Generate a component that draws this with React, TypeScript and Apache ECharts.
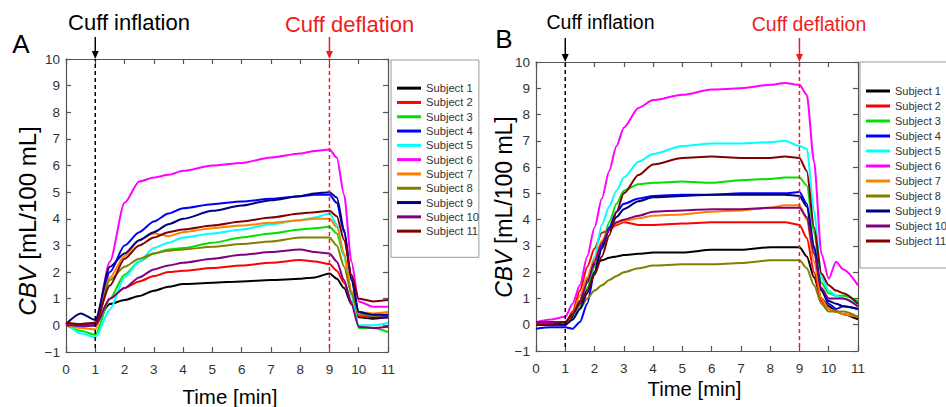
import React, { useEffect, useRef } from 'react';
import * as echarts from 'echarts';

const subjects = ['Subject 1', 'Subject 2', 'Subject 3', 'Subject 4', 'Subject 5', 'Subject 6', 'Subject 7', 'Subject 8', 'Subject 9', 'Subject 10', 'Subject 11'];
const colors = ['#000000', '#ff0000', '#00e000', '#0000ff', '#00ffff', '#ff00ff', '#ff8000', '#808000', '#000080', '#800080', '#800000'];

const xTicks = { min: 0, max: 11, interval: 1 };
const yTicks = { min: -1, max: 10, interval: 1 };
const cuffInflation = 1;
const cuffDeflation = 9;
const dashBottom = -0.85;

// Panel A
const timeA = [0, 0.5, 1, 1.5, 2, 2.5, 3, 3.5, 4, 5, 6, 7, 8, 8.5, 9, 9.25, 9.5, 9.75, 10, 10.5, 11];
const a1 = [0, 0.0, 0.1, 0.8, 0.95, 1.1, 1.3, 1.45, 1.55, 1.6, 1.65, 1.7, 1.75, 1.8, 1.95, 1.75, 1.4, 0.8, 0.3, 0.25, 0.3];
const a2 = [0, -0.05, 0, 1.0, 1.4, 1.65, 1.85, 2.0, 2.05, 2.15, 2.25, 2.35, 2.45, 2.4, 2.3, 2.05, 1.6, 0.9, 0.35, 0.3, 0.3];
const a3 = [0, -0.2, -0.35, 1.0, 1.9, 2.4, 2.7, 2.85, 2.9, 3.1, 3.3, 3.45, 3.6, 3.65, 3.7, 3.45, 2.6, 1.2, -0.1, -0.1, -0.25];
const a4 = [0, -0.05, 0, 2.0, 3.0, 3.5, 3.9, 4.2, 4.4, 4.55, 4.65, 4.75, 4.85, 4.9, 4.9, 4.6, 3.5, 1.8, 0.5, 0.3, 0.3];
const a5 = [0.1, -0.3, -0.45, 0.6, 1.8, 2.4, 2.9, 3.1, 3.3, 3.45, 3.6, 3.8, 3.95, 4.05, 4.2, 3.8, 2.6, 1.1, 0.0, 0.0, 0.1];
const a6 = [0, 0, 0, 2.4, 4.6, 5.4, 5.55, 5.65, 5.8, 6.0, 6.1, 6.3, 6.45, 6.55, 6.6, 6.3, 4.9, 2.4, 0.9, 0.7, 0.7];
const a7 = [0, -0.1, -0.15, 1.8, 2.6, 3.2, 3.45, 3.35, 3.5, 3.65, 3.75, 3.85, 3.95, 4.0, 4.0, 3.7, 2.7, 1.3, 0.5, 0.45, 0.5];
const a8 = [0, 0, 0, 1.7, 2.2, 2.5, 2.7, 2.8, 2.85, 2.95, 3.05, 3.15, 3.3, 3.3, 3.3, 3.0, 2.2, 1.2, 0.4, 0.35, 0.4];
const a9 = [0.05, 0.45, 0.2, 2.2, 2.7, 3.2, 3.5, 3.8, 4.0, 4.3, 4.5, 4.7, 4.85, 4.95, 5.0, 4.8, 3.6, 1.7, 0.5, 0.4, 0.4];
const a10 = [0, 0, 0, 1.0, 1.4, 1.8, 2.1, 2.25, 2.35, 2.5, 2.65, 2.75, 2.85, 2.75, 2.7, 2.4, 1.7, 0.8, -0.05, -0.1, -0.05];
const a11 = [0.1, 0.05, 0.1, 1.5, 2.5, 3.0, 3.3, 3.5, 3.6, 3.75, 3.9, 4.05, 4.2, 4.25, 4.3, 4.1, 3.2, 1.9, 1.0, 0.9, 0.95];
const panelA = [a1, a2, a3, a4, a5, a6, a7, a8, a9, a10, a11];

// Panel B
const timeB = [0, 0.5, 1, 1.25, 1.5, 1.75, 2, 2.25, 2.5, 2.75, 3, 3.5, 4, 5, 6, 7, 8, 8.5, 9, 9.25, 9.5, 9.75, 10, 10.25, 10.5, 11];
const b1 = [0.05, 0.05, 0, 0.3, 0.9, 1.7, 2.3, 2.45, 2.55, 2.6, 2.65, 2.7, 2.75, 2.75, 2.85, 2.85, 2.95, 2.95, 2.95, 2.6, 1.8, 1.0, 0.7, 0.5, 0.4, 0.2];
const b2 = [0, 0, 0, 0.5, 1.3, 2.2, 2.9, 3.5, 3.6, 3.8, 3.9, 3.8, 3.8, 3.85, 3.9, 3.9, 3.9, 3.9, 3.8, 3.3, 2.0, 0.9, 0.6, 0.5, 0.4, 0.3];
const b3 = [0, 0, 0, 0.2, 0.7, 1.4, 2.2, 3.0, 3.9, 4.6, 5.1, 5.35, 5.4, 5.45, 5.4, 5.5, 5.55, 5.6, 5.6, 5.3, 3.5, 1.6, 1.2, 1.1, 1.1, 0.9];
const b4 = [-0.15, -0.1, -0.1, -0.15, 0.1, 0.8, 2.0, 3.0, 3.7, 4.3, 4.6, 4.8, 4.9, 4.95, 4.95, 5.0, 5.0, 5.0, 5.05, 4.6, 3.0, 1.3, 0.8, 0.6, 0.7, 0.6];
const b5 = [0, 0, 0, 0.2, 0.8, 1.6, 2.6, 3.8, 4.5, 5.1, 5.6, 6.2, 6.5, 6.8, 6.9, 6.9, 6.95, 7.0, 6.8, 6.7, 4.3, 1.8, 1.3, 1.1, 1.0, 0.8];
const b6 = [0.1, 0.2, 0.3, 0.8, 1.5, 2.6, 3.7, 4.8, 5.85, 6.8, 7.5, 8.25, 8.55, 8.75, 8.95, 9.0, 9.13, 9.2, 9.13, 8.75, 6.2, 2.7, 1.75, 2.4, 2.1, 1.5];
const b7 = [0, 0, 0, 0.4, 1.1, 1.8, 2.5, 3.2, 3.6, 3.85, 3.95, 4.05, 4.15, 4.2, 4.3, 4.35, 4.45, 4.55, 4.55, 4.0, 2.4, 1.0, 0.6, 0.5, 0.4, 0.3];
const b8 = [0, 0, 0, 0.2, 0.6, 1.0, 1.3, 1.5, 1.7, 1.85, 2.0, 2.15, 2.25, 2.3, 2.3, 2.35, 2.45, 2.45, 2.45, 2.15, 1.5, 0.8, 0.5, 0.5, 0.5, 0.3];
const b9 = [0, 0, 0, 0.2, 0.6, 1.2, 2.0, 2.9, 3.6, 4.1, 4.4, 4.7, 4.85, 4.9, 4.95, 4.95, 4.95, 4.95, 4.9, 4.5, 2.9, 1.3, 0.9, 0.8, 0.7, 0.6];
const b10 = [0.1, 0.1, 0.1, 0.4, 0.9, 1.6, 2.4, 3.1, 3.6, 3.9, 4.0, 4.15, 4.3, 4.35, 4.4, 4.4, 4.45, 4.45, 4.45, 4.1, 2.7, 1.4, 1.0, 1.0, 1.0, 0.7];
const b11 = [0, 0, 0.1, 0.4, 0.8, 1.3, 1.9, 2.6, 3.4, 4.3, 5.0, 5.7, 6.1, 6.35, 6.4, 6.35, 6.35, 6.4, 6.35, 5.85, 3.7, 1.95, 1.5, 1.3, 1.2, 0.8];
const panelB = [b1, b2, b3, b4, b5, b6, b7, b8, b9, b10, b11];

const FONT = 'Liberation Sans, Arial, sans-serif';
const AXIS_COLOR = '#555';

const fmt = (v: number) => (v < 0 ? '\u2212' + Math.abs(v) : String(v));

function axesFor(grid: number) {
  const common = { gridIndex: grid, type: 'value' as const, splitLine: { show: false } };
  const line = { show: true, onZero: false, lineStyle: { color: AXIS_COLOR, width: 1.2 } };
  const tick = { show: true, inside: true, length: 5, lineStyle: { color: AXIS_COLOR, width: 1.2 } };
  const label = { color: '#333', fontSize: 13.5, fontFamily: FONT, formatter: fmt };
  return {
    x: [
      { ...common, ...xTicks, position: 'bottom', axisLine: line, axisTick: tick, axisLabel: { ...label, margin: 10 } },
      { ...common, ...xTicks, position: 'top', axisLine: line, axisTick: tick, axisLabel: { show: false } },
    ],
    y: [
      { ...common, ...yTicks, position: 'left', axisLine: line, axisTick: tick, axisLabel: { ...label, margin: 6 } },
      { ...common, ...yTicks, position: 'right', axisLine: line, axisTick: tick, axisLabel: { show: false } },
    ],
  };
}

function seriesFor(panel: number[][], time: number[], axisIdx: number) {
  const s: any[] = panel.map((vals, i) => ({
    name: subjects[i],
    type: 'line',
    xAxisIndex: axisIdx,
    yAxisIndex: axisIdx,
    data: time.map((t, k) => [t, vals[k]]),
    showSymbol: false,
    symbol: 'none',
    smooth: 0.25,
    smoothMonotone: 'x',
    lineStyle: { color: colors[i], width: 2 },
    itemStyle: { color: colors[i] },
    silent: true,
  }));
  s.push({
    type: 'line', xAxisIndex: axisIdx, yAxisIndex: axisIdx, symbol: 'none', silent: true,
    data: [[cuffInflation, dashBottom], [cuffInflation, yTicks.max]],
    lineStyle: { color: '#000', width: 1.5, type: [4, 3] },
  });
  s.push({
    type: 'line', xAxisIndex: axisIdx, yAxisIndex: axisIdx, symbol: 'none', silent: true,
    data: [[cuffDeflation, dashBottom], [cuffDeflation, yTicks.max]],
    lineStyle: { color: '#ee1c1c', width: 1.5, type: [4, 3] },
  });
  return s;
}

export default function App() {
  const ref = useRef<HTMLDivElement>(null);
  useEffect(() => {
    if (!ref.current) return;
    const chart = echarts.init(ref.current, null, { renderer: 'svg' });
    const axA = axesFor(0);
    const axB = axesFor(1);
    chart.setOption({
      animation: false,
      textStyle: { fontFamily: FONT },
      grid: [
        { left: 66, top: 59, width: 322, height: 293 },
        { left: 536, top: 62, width: 322, height: 289 },
      ],
      xAxis: [...axA.x, ...axB.x],
      yAxis: [...axA.y, ...axB.y],
      legend: [
        {
          orient: 'vertical', left: 391, top: 60, data: subjects, icon: 'rect',
          itemWidth: 24, itemHeight: 3, itemGap: 0, padding: [21, 0, 19, 6],
          borderColor: '#999', borderWidth: 1, selectedMode: false,
          textStyle: { fontSize: 11.2, color: '#333', lineHeight: 14.3, fontFamily: FONT },
        },
        {
          orient: 'vertical', left: 860, top: 62, data: subjects, icon: 'rect',
          itemWidth: 24, itemHeight: 3, itemGap: 0, padding: [21.5, 6, 19.5, 6],
          borderColor: '#999', borderWidth: 1, selectedMode: false,
          textStyle: { fontSize: 11, color: '#333', lineHeight: 15, fontFamily: FONT },
        },
      ],
      series: [...seriesFor(panelA, timeA, 0), ...seriesFor(panelB, timeB, 2)],
    });

    const arrow = (grid: number, xv: number, color: string, topY: number) => {
      const p = chart.convertToPixel({ gridIndex: grid } as any, [xv, yTicks.max]) as number[];
      const x = p[0];
      const yEnd = p[1];
      return [
        { type: 'line', shape: { x1: x, y1: topY, x2: x, y2: yEnd - 6 }, style: { stroke: color, lineWidth: 1.5 }, silent: true },
        { type: 'polygon', shape: { points: [[x - 3.5, yEnd - 8], [x + 3.5, yEnd - 8], [x, yEnd]] }, style: { fill: color }, silent: true },
      ];
    };
    const txt = (text: string, x: number, y: number, size: number, color = '#000') => ({
      type: 'text', x, y, silent: true,
      style: { text, fill: color, fontSize: size, fontFamily: FONT, align: 'center', verticalAlign: 'middle' },
    });
    const yName = (x: number, y: number, size: number) => ({
      type: 'text', x, y, rotation: Math.PI / 2, silent: true,
      style: {
        text: '{i|CBV} [mL/100 mL]', fill: '#000', fontSize: size, fontFamily: FONT, align: 'center', verticalAlign: 'middle',
        rich: { i: { fontStyle: 'italic', fontSize: size, fontFamily: FONT, fill: '#000' } },
      },
    });

    chart.setOption({
      graphic: [
        ...arrow(0, cuffInflation, '#000', 37),
        ...arrow(0, cuffDeflation, '#ee1c1c', 37),
        ...arrow(1, cuffInflation, '#000', 38),
        ...arrow(1, cuffDeflation, '#ee1c1c', 38),
        txt('A', 21, 44, 26),
        txt('B', 504, 39, 26),
        txt('Cuff inflation', 129, 22, 22),
        txt('Cuff deflation', 349.5, 24.5, 22, '#ee1c1c'),
        txt('Cuff inflation', 600.5, 21.5, 19.5),
        txt('Cuff deflation', 809, 24, 19.5, '#ee1c1c'),
        txt('Time [min]', 230, 396, 20.5),
        txt('Time [min]', 694.5, 389, 20.3),
        yName(27, 221, 24),
        yName(504, 207, 23),
      ],
    });
    return () => chart.dispose();
  }, []);
  return <div ref={ref} style={{ position: 'absolute', left: 0, top: 0, width: 946, height: 407 }} />;
}
